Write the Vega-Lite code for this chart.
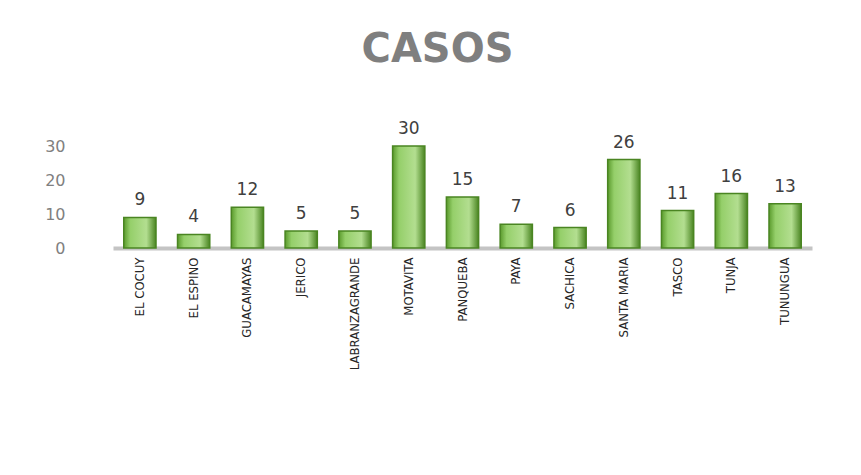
{
  "$schema": "https://vega.github.io/schema/vega-lite/v6.json",
  "width": 699,
  "height": 102,
  "padding": {"left": 5, "top": 30, "right": 5, "bottom": 5},
  "background": "white",
  "title": {
    "text": "CASOS",
    "font": "DejaVu Sans",
    "fontSize": 40,
    "fontWeight": "bold",
    "color": "#7f7f7f",
    "anchor": "middle",
    "dx": -25,
    "offset": 50
  },
  "data": {
    "values": [
      {"municipio": "EL COCUY", "casos": 9},
      {"municipio": "EL ESPINO", "casos": 4},
      {"municipio": "GUACAMAYAS", "casos": 12},
      {"municipio": "JERICO", "casos": 5},
      {"municipio": "LABRANZAGRANDE", "casos": 5},
      {"municipio": "MOTAVITA", "casos": 30},
      {"municipio": "PANQUEBA", "casos": 15},
      {"municipio": "PAYA", "casos": 7},
      {"municipio": "SACHICA", "casos": 6},
      {"municipio": "SANTA MARIA", "casos": 26},
      {"municipio": "TASCO", "casos": 11},
      {"municipio": "TUNJA", "casos": 16},
      {"municipio": "TUNUNGUA", "casos": 13}
    ]
  },
  "encoding": {
    "x": {
      "field": "municipio",
      "type": "nominal",
      "sort": null,
      "scale": {"paddingInner": 0.4, "paddingOuter": 0.2},
      "axis": {
        "title": null,
        "labelAngle": -90,
        "labelAlign": "right",
        "labelBaseline": "middle",
        "labelFont": "Liberation Sans Narrow, DejaVu Sans Condensed, sans-serif",
        "labelFontSize": 13,
        "labelColor": "#262626",
        "labelPadding": 9,
        "ticks": false,
        "domainColor": "#c4c4c4",
        "domainWidth": 4
      }
    },
    "y": {
      "field": "casos",
      "type": "quantitative",
      "scale": {"domain": [0, 30]},
      "axis": {
        "title": null,
        "values": [0, 10, 20, 30],
        "grid": false,
        "domain": false,
        "ticks": false,
        "labelFont": "DejaVu Sans",
        "labelFontSize": 16,
        "labelColor": "#808080",
        "labelPadding": 48,
        "minExtent": 108
      }
    }
  },
  "layer": [
    {
      "mark": {
        "type": "bar",
        "stroke": "#4a8522",
        "strokeWidth": 1.5,
        "color": {
          "gradient": "linear",
          "x1": 0, "x2": 1, "y1": 0, "y2": 0,
          "stops": [
            {"offset": 0, "color": "#5a9a2c"},
            {"offset": 0.2, "color": "#95cf6a"},
            {"offset": 0.7, "color": "#b3de90"},
            {"offset": 1, "color": "#4a8522"}
          ]
        }
      }
    },
    {
      "mark": {
        "type": "text",
        "baseline": "bottom",
        "dy": -8,
        "font": "DejaVu Sans",
        "fontSize": 17,
        "color": "#404040"
      },
      "encoding": {"text": {"field": "casos", "type": "quantitative"}}
    }
  ],
  "config": {"view": {"stroke": null}}
}
